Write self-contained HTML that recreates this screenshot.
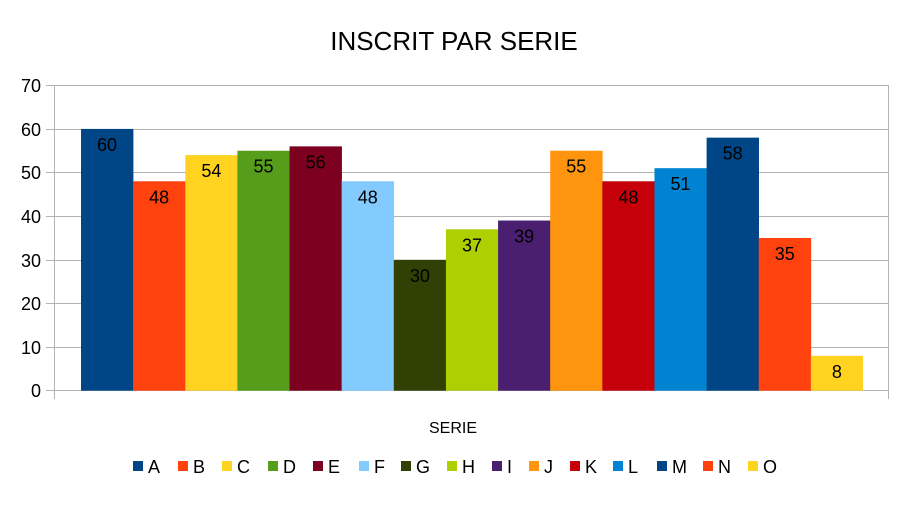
<!DOCTYPE html>
<html><head><style>body{margin:0;background:#fff}svg{display:block}text{font-family:"Liberation Sans",sans-serif}</style></head>
<body>
<svg width="908" height="511" xmlns="http://www.w3.org/2000/svg">
<rect width="908" height="511" fill="#fff"/>
<text x="454" y="50" font-size="26" text-anchor="middle" fill="#000">INSCRIT PAR SERIE</text>
<g stroke="#b3b3b3" stroke-width="1">
<line x1="46" x2="888" y1="85.5" y2="85.5"/>
<line x1="46" x2="888" y1="129.5" y2="129.5"/>
<line x1="46" x2="888" y1="172.5" y2="172.5"/>
<line x1="46" x2="888" y1="216.5" y2="216.5"/>
<line x1="46" x2="888" y1="260.5" y2="260.5"/>
<line x1="46" x2="888" y1="303.5" y2="303.5"/>
<line x1="46" x2="888" y1="347.5" y2="347.5"/>
<line x1="46" x2="888" y1="390.5" y2="390.5"/>
<line x1="54.5" x2="54.5" y1="85" y2="399"/>
<line x1="888.5" x2="888.5" y1="85" y2="399"/>
</g>
<g font-size="18" text-anchor="end" fill="#000">
<text x="41" y="92">70</text><text x="41" y="136">60</text><text x="41" y="179">50</text><text x="41" y="223">40</text><text x="41" y="267">30</text><text x="41" y="310">20</text><text x="41" y="354">10</text><text x="41" y="397">0</text>
</g>
<g>
<rect x="81" y="128.92" width="52.4" height="261.78" fill="#004586"/>
<rect x="133.13" y="181.28" width="52.4" height="209.42" fill="#ff420e"/>
<rect x="185.27" y="155.1" width="52.4" height="235.6" fill="#ffd320"/>
<rect x="237.4" y="150.73" width="52.4" height="239.97" fill="#579d1c"/>
<rect x="289.53" y="146.37" width="52.4" height="244.33" fill="#7e0021"/>
<rect x="341.67" y="181.28" width="52.4" height="209.42" fill="#83caff"/>
<rect x="393.8" y="259.81" width="52.4" height="130.89" fill="#314004"/>
<rect x="445.93" y="229.27" width="52.4" height="161.43" fill="#aecf00"/>
<rect x="498.07" y="220.54" width="52.4" height="170.16" fill="#4b1f6f"/>
<rect x="550.2" y="150.73" width="52.4" height="239.97" fill="#ff950e"/>
<rect x="602.33" y="181.28" width="52.4" height="209.42" fill="#c5000b"/>
<rect x="654.47" y="168.19" width="52.4" height="222.51" fill="#0084d1"/>
<rect x="706.6" y="137.65" width="52.4" height="253.05" fill="#004586"/>
<rect x="758.73" y="237.99" width="52.4" height="152.71" fill="#ff420e"/>
<rect x="810.87" y="355.8" width="52.13" height="34.9" fill="#ffd320"/>
</g>
<g font-size="18" text-anchor="middle" fill="#000">
<text x="107.07" y="150.9">60</text>
<text x="159.2" y="203.3">48</text>
<text x="211.33" y="177.1">54</text>
<text x="263.47" y="172.7">55</text>
<text x="315.6" y="168.4">56</text>
<text x="367.73" y="203.3">48</text>
<text x="419.87" y="281.8">30</text>
<text x="472" y="251.3">37</text>
<text x="524.13" y="242.5">39</text>
<text x="576.27" y="172.7">55</text>
<text x="628.4" y="203.3">48</text>
<text x="680.53" y="190.2">51</text>
<text x="732.67" y="159.6">58</text>
<text x="784.8" y="260">35</text>
<text x="836.93" y="377.8">8</text>
</g>
<text x="453" y="433" font-size="16" text-anchor="middle">SERIE</text>
<g font-size="18" fill="#000">
<rect x="133" y="461" width="10" height="10" fill="#004586"/><text x="148" y="473">A</text>
<rect x="178" y="461" width="10" height="10" fill="#ff420e"/><text x="193" y="473">B</text>
<rect x="222" y="461" width="10" height="10" fill="#ffd320"/><text x="237" y="473">C</text>
<rect x="268" y="461" width="10" height="10" fill="#579d1c"/><text x="283" y="473">D</text>
<rect x="313" y="461" width="10" height="10" fill="#7e0021"/><text x="328" y="473">E</text>
<rect x="359" y="461" width="10" height="10" fill="#83caff"/><text x="374" y="473">F</text>
<rect x="401" y="461" width="10" height="10" fill="#314004"/><text x="416" y="473">G</text>
<rect x="447" y="461" width="10" height="10" fill="#aecf00"/><text x="462" y="473">H</text>
<rect x="492" y="461" width="10" height="10" fill="#4b1f6f"/><text x="507" y="473">I</text>
<rect x="529" y="461" width="10" height="10" fill="#ff950e"/><text x="544" y="473">J</text>
<rect x="570" y="461" width="10" height="10" fill="#c5000b"/><text x="585" y="473">K</text>
<rect x="613" y="461" width="10" height="10" fill="#0084d1"/><text x="628" y="473">L</text>
<rect x="657" y="461" width="10" height="10" fill="#004586"/><text x="672" y="473">M</text>
<rect x="703" y="461" width="10" height="10" fill="#ff420e"/><text x="718" y="473">N</text>
<rect x="748" y="461" width="10" height="10" fill="#ffd320"/><text x="763" y="473">O</text>
</g>
</svg>
</body></html>
